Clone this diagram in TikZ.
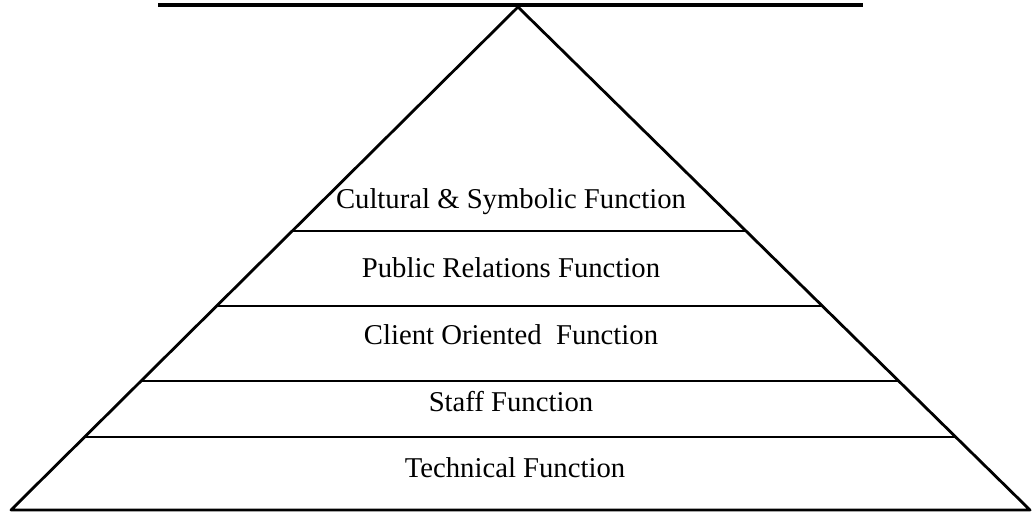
\documentclass[tikz,border=0pt]{standalone}
\usepackage{fontspec}
\setmainfont{Liberation Serif}
\usepackage{tikz}
\usetikzlibrary{positioning,calc}
\tikzstyle{layer} = [font=\fontsize{28.7}{32}\selectfont, inner sep=0pt, anchor=center]
\tikzstyle{edge} = [line width=2.8pt, line join=round]

\begin{document}
\begin{tikzpicture}[x=1pt, y=-1pt]
	\useasboundingbox (0,0) rectangle (1032,512);

	% Corners of the pyramid
	\coordinate (apex) at (518,7);
	\coordinate (bl) at (11,510);
	\coordinate (br) at (1030,510);
	\coordinate (topL) at (158,5);
	\coordinate (topR) at (863,5);

	% Place nodes
	\node [layer] at (511,202) (cultural) {Cultural \& Symbolic Function};
	\node [layer] at (511,268) (public) {Public Relations Function};
	\node [layer] at (511,335) (client) {Client Oriented~ Function};
	\node [layer] at (511,402) (staff) {Staff Function};
	\node [layer] at (515,468) (technical) {Technical Function};

	\draw[edge, line width=3.5pt](topL)--(topR);
	\draw[edge](bl)--(apex)--(br)--cycle;

	\draw[edge]($(apex)!0.4453!(bl)$)--($(apex)!0.4453!(br)$);
	\draw[edge]($(apex)!0.5944!(bl)$)--($(apex)!0.5944!(br)$);
	\draw[edge]($(apex)!0.7435!(bl)$)--($(apex)!0.7435!(br)$);
	\draw[edge]($(apex)!0.8549!(bl)$)--($(apex)!0.8549!(br)$);
\end{tikzpicture}
\end{document}
